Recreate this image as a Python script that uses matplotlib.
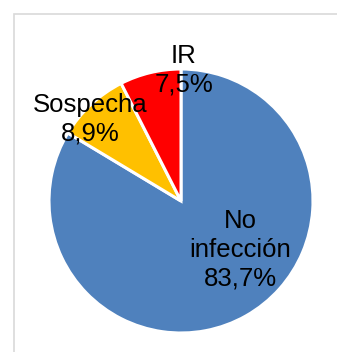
import matplotlib.pyplot as plt
from matplotlib.patches import Rectangle

# pie data, clockwise from 12 o'clock
categories = ["No\ninfección", "Sospecha", "IR"]
shares = [83.7, 8.9, 7.5]
colors = ["#4F81BD", "#FFC000", "#FF0000"]

# label anchors (pie radius = 1)
label_pos = [(0.45, -0.371), (-0.685, 0.616), (0.02, 0.992)]

plt.rcParams["font.family"] = ["Liberation Sans", "DejaVu Sans"]

fig = plt.figure(figsize=(3.37, 3.52), dpi=100)
ax = fig.add_axes([0, 0, 1, 1])

ax.pie(shares, colors=colors, startangle=90, counterclock=False,
       radius=1.0, wedgeprops=dict(edgecolor="white", linewidth=2.2))

for name, val, (x, y) in zip(categories, shares, label_pos):
    txt = name + "\n" + f"{val:.1f}".replace(".", ",") + "%"
    ax.text(x, y, txt, ha="center", va="center", fontsize=18.5,
            color="black", linespacing=1.24)

# place the pie: centre at (181, 201) px, radius 132 px
r_px = 132.0
cx, cy = 181.0, 201.0
ax.set_xlim(-cx / r_px, (337 - cx) / r_px)
ax.set_ylim(-(352 - cy) / r_px, cy / r_px)
ax.set_aspect("auto")
ax.axis("off")

# chart frame
fig.patches.append(Rectangle((14 / 337, -0.1), 1.2, 1 - 14 / 352 + 0.1,
                             transform=fig.transFigure, fill=False,
                             edgecolor="#D9D9D9", linewidth=1.2))

fig.savefig("out.png", dpi=100, facecolor="white")
